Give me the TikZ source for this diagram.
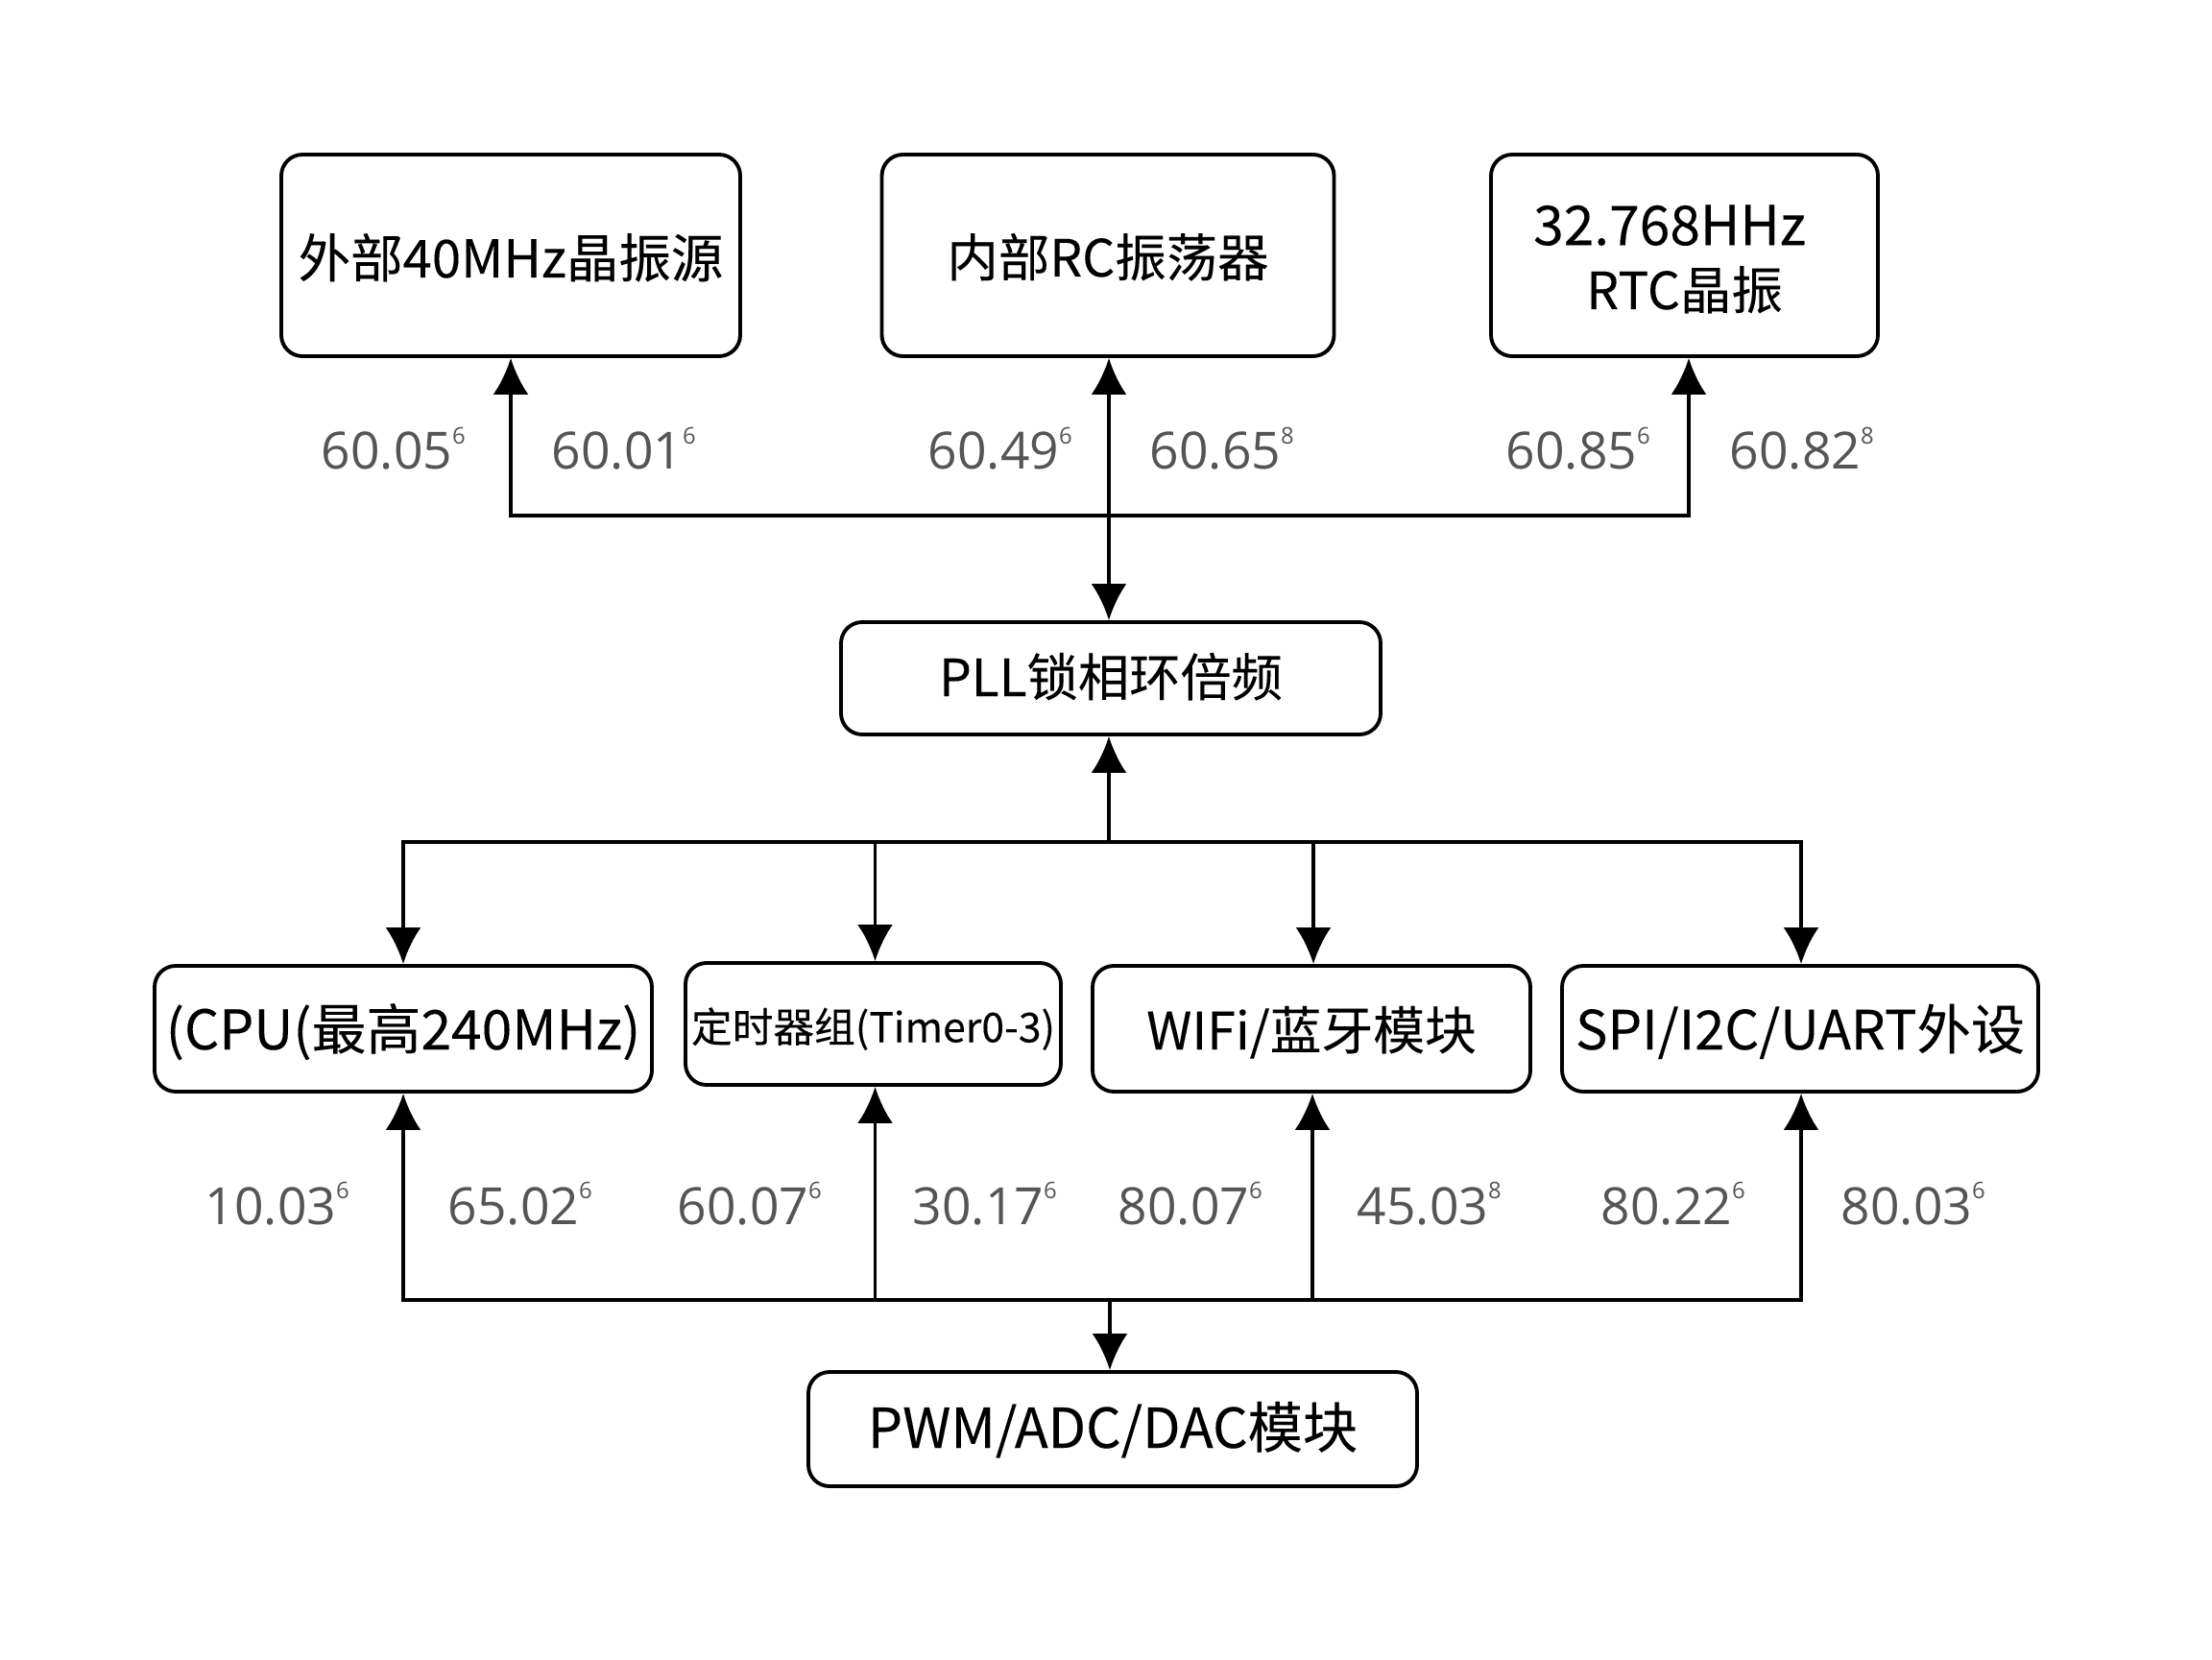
\documentclass[tikz,border=0pt]{standalone}
\usepackage{fontspec}
\setmainfont{Noto Sans CJK SC}[FakeBold=0.15]
\newfontfamily\valfont{Open Sans}
\usetikzlibrary{arrows.meta}
\definecolor{valgray}{HTML}{555555}
\newcommand{\supmark}[1]{\raisebox{0.5em}{\fontsize{6.8}{6.8}\selectfont #1}}
\tikzset{
	unit/.style={draw=black, line width=1.1pt, rounded corners=0.22cm, align=center, inner sep=0pt, text depth=0pt},
	fs/.style={font=\fontsize{#1}{19}\selectfont},
	val/.style={anchor=base west, inner sep=0pt, text=valgray, font=\valfont\fontsize{15.2}{18}\selectfont},
	conn/.style={line width=1.1pt, -{Latex[length=0.38cm,width=0.37cm]}},
	biconn/.style={line width=1.1pt, {Latex[length=0.38cm,width=0.37cm]}-{Latex[length=0.38cm,width=0.37cm]}}
}
\begin{document}
\begin{tikzpicture}
	\useasboundingbox (0,0) rectangle (23.04,17.28);
	\fill[white] (0,0) rectangle (23.04,17.28);

	\node[unit, fs=15.5, text height=0.46cm, minimum width=4.78cm, minimum height=2.10cm] (ext) at (5.32,14.62) {外部40MHz晶振源};
	\node[unit, fs=15.2, text height=0.44cm, minimum width=4.71cm, minimum height=2.10cm] (int) at (11.54,14.62) {内部RC振荡器};
	\node[unit, fs=16.2, text height=1.12cm, minimum width=4.03cm, minimum height=2.10cm] (rtc) at (17.545,14.62) {32.768HHz\hspace*{0.31cm}\\\fontsize{15.2}{19}\selectfont RTC晶振};
	\node[unit, fs=15.15, text height=0.37cm, minimum width=5.62cm, minimum height=1.17cm] (pll) at (11.57,10.215) {PLL锁相环倍频};
	\node[unit, fs=16.2, text height=0.43cm, minimum width=5.18cm, minimum height=1.31cm] (cpu) at (4.20,6.565) {(CPU(最高240MHz)};
	\node[unit, fs=12.15, text height=0.38cm, minimum width=3.91cm, minimum height=1.27cm] (timer) at (9.095,6.615) {定时器组(Timer0-3)};
	\node[unit, fs=15.3, text height=0.43cm, minimum width=4.56cm, minimum height=1.31cm] (wifi) at (13.66,6.565) {WIFi/蓝牙模块};
	\node[unit, fs=16, text height=0.43cm, minimum width=4.96cm, minimum height=1.31cm] (spi) at (18.75,6.565) {SPI/I2C/UART外设};
	\node[unit, fs=16.3, text height=0.39cm, minimum width=6.34cm, minimum height=1.19cm] (pwm) at (11.59,2.395) {PWM/ADC/DAC模块};

	\coordinate (srcbus) at (11.55,11.91);
	\coordinate (clkbus) at (11.55,8.51);
	\coordinate (perbus) at (11.56,3.74);

	\draw[conn] (srcbus) -| (ext.south);
	\draw[conn] (srcbus) -| ([xshift=0.045cm]rtc.south);
	\draw[biconn] (srcbus |- int.south) -- (srcbus |- pll.north);

	\draw[conn] (clkbus) -- (clkbus |- pll.south);
	\draw[conn] (clkbus) -| (cpu.north);
	\draw[conn] (clkbus) -| ([xshift=0.02cm]timer.north);
	\draw[conn] (clkbus) -| ([xshift=0.02cm]wifi.north);
	\draw[conn] (clkbus) -| ([xshift=0.01cm]spi.north);

	\draw[conn] (perbus) -- (perbus |- pwm.north);
	\draw[conn] (perbus) -| (cpu.south);
	\draw[conn] (perbus) -| ([xshift=0.02cm]timer.south);
	\draw[conn] (perbus) -| ([xshift=0.01cm]wifi.south);
	\draw[conn] (perbus) -| ([xshift=0.01cm]spi.south);

	\node[val] (v1) at (3.34,12.39) {60.05\supmark{6}};
	\node[val] (v2) at (5.74,12.39) {60.01\supmark{6}};
	\node[val] (v3) at (9.66,12.39) {60.49\supmark{6}};
	\node[val] (v4) at (11.97,12.39) {60.65\supmark{8}};
	\node[val] (v5) at (15.68,12.39) {60.85\supmark{6}};
	\node[val] (v6) at (18.01,12.39) {60.82\supmark{8}};

	\node[val] (w1) at (2.13,4.53) {10.03\supmark{6}};
	\node[val] (w2) at (4.66,4.53) {65.02\supmark{6}};
	\node[val] (w3) at (7.05,4.53) {60.07\supmark{6}};
	\node[val] (w4) at (9.50,4.53) {30.17\supmark{6}};
	\node[val] (w5) at (11.64,4.53) {80.07\supmark{6}};
	\node[val] (w6) at (14.13,4.53) {45.03\supmark{8}};
	\node[val] (w7) at (16.67,4.53) {80.22\supmark{6}};
	\node[val] (w8) at (19.17,4.53) {80.03\supmark{6}};
\end{tikzpicture}
\end{document}
